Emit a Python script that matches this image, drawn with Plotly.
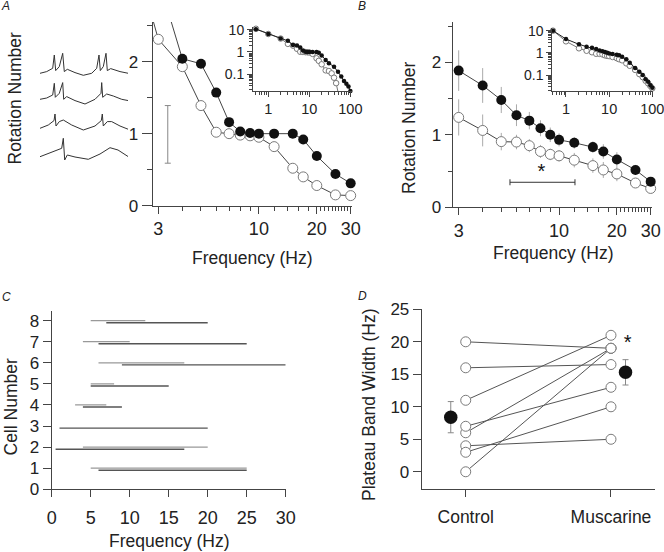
import plotly.graph_objects as go

W, H = 664, 552
FONT = "Liberation Sans, Arial, sans-serif"

# ---------------- Panel A (rotation number vs frequency) ----------------
a_filled_freq = [3, 4, 5, 6, 7, 8, 9, 10, 12, 15, 17, 20, 25, 30]
a_filled_rot = [3.15, 2.04, 1.97, 1.57, 1.16, 1.03, 1.01, 1.0, 1.0, 1.0, 0.92, 0.69, 0.44, 0.31]
a_open_freq = [2, 3, 4, 5, 6, 7, 8, 9, 10, 12, 15, 17, 20, 25, 30]
a_open_rot = [4.0, 2.31, 1.93, 1.39, 1.02, 1.0, 0.98, 0.97, 0.95, 0.82, 0.52, 0.40, 0.28, 0.15, 0.14]

# inset A (log-log)
ai_filled_freq = [0.5, 1, 2, 3, 4, 5, 6, 7, 8, 9, 10, 12, 15, 17, 20, 25, 30, 40, 50, 60, 70, 80, 90, 100]
ai_filled_rot = [10.5, 6.4, 4.0, 3.15, 2.04, 1.97, 1.57, 1.16, 1.03, 1.01, 1.0, 1.0, 1.0, 0.92, 0.69, 0.44,
                 0.31, 0.22, 0.13, 0.08, 0.05, 0.038, 0.028, 0.018]
ai_open_freq = [0.5, 1, 2, 3, 4, 5, 6, 7, 8, 9, 10, 12, 15, 17, 20, 25, 30, 35, 40, 45, 50]
ai_open_rot = [11.0, 6.4, 4.0, 2.31, 1.93, 1.39, 1.02, 1.0, 0.98, 0.97, 0.95, 0.82, 0.52, 0.40, 0.28, 0.15,
               0.14, 0.11, 0.07, 0.04, 0.016]

# scale bar for the voltage traces
scalebar_freq = [3.36]
scalebar_mid = [0.99]
scalebar_half = [0.40]

# example voltage traces (time, voltage) - illustrative
wave1_t = [0, 6.7, 12.7, 14.3, 15.7, 19.3, 22.7, 24.3, 27.3, 35, 43.3, 51.7, 56.7, 59, 60.3, 63.3, 66, 67.3, 70.7, 80, 88.3]
wave1_v = [0, 1.7, 5, 18.3, 2.7, 6.7, 20, 1.7, 4, 0.7, -2, 0, 5, 18.3, 2.7, 6.7, 20, 2.7, 4.7, 1.7, 0]
wave2_t = [0, 6.7, 12.7, 14.3, 15.3, 19.3, 22.7, 23.7, 26.7, 35, 45, 55, 61, 61.7, 62.7, 66.7, 73.3, 81.7, 88.3]
wave2_v = [0, 1.3, 4.3, 16, 2, 6, 16.7, 0, 2.7, -1.3, -4.7, 0, 6, 16.7, 2, 5.3, 3.3, 0, -1.3]
wave3_t = [0, 8.3, 14, 15, 16, 19.3, 23.3, 31.7, 43.3, 55, 61.3, 62.3, 63.3, 67.3, 71.7, 80, 88.3]
wave3_v = [0, 3.3, 7.7, 14.3, 2.3, 6.7, 8.3, 3.3, -1.7, 2.3, 7.7, 14.3, 2.3, 6.7, 6.7, 2.3, -1]
wave4_t = [0, 21.7, 23.3, 24.7, 27.3, 35, 48.3, 60, 70, 78, 88.3]
wave4_v = [-1.7, 6.7, 16.7, -5, 0, -2, -4.3, 1, 7.3, 5, -1.7]
wave_offsets = [-33.3, -59.3, -88.3, -115]

# ---------------- Panel B ----------------
b_freq = [3, 4, 5, 6, 7, 8, 9, 10, 12, 15, 17, 20, 25, 30]
b_filled_rot = [1.885, 1.68, 1.48, 1.27, 1.195, 1.09, 1.0, 0.93, 0.89, 0.83, 0.77, 0.66, 0.515, 0.354]
b_filled_err = [0.28, 0.24, 0.18, 0.15, 0.12, 0.11, 0.10, 0.09, 0.08, 0.08, 0.10, 0.10, 0.07, 0.05]
b_open_rot = [1.24, 1.06, 0.906, 0.90, 0.85, 0.77, 0.73, 0.71, 0.65, 0.575, 0.515, 0.46, 0.335, 0.26]
b_open_err = [0.25, 0.22, 0.12, 0.10, 0.09, 0.09, 0.08, 0.08, 0.10, 0.10, 0.11, 0.10, 0.06, 0.05]

bi_low_freq = [0.5, 1, 2]
bi_high_freq = [40, 50, 60, 70, 80, 90, 100]
bi_filled_low = [10.0, 4.2, 2.42]
bi_filled_high = [0.21, 0.14, 0.10, 0.065, 0.05, 0.035, 0.027]
bi_open_low = [10.0, 3.3, 1.6]
bi_open_high = [0.17, 0.11, 0.08, 0.055, 0.042, 0.032, 0.025]

sig_bar_center = [8.825]
sig_bar_half = [3.275]
sig_bar_level = [0.345]
sig_star_b = (8.1, 0.47)

# ---------------- Panel C (plateau bands per cell) ----------------
cells = [1, 2, 3, 4, 5, 6, 7, 8]
ctrl_lo = [5, 4, 15, 3, 5, 6, 4, 5]
ctrl_hi = [25, 20, 15, 7, 8, 17, 10, 12]
musc_lo = [6, 0.5, 1, 4, 5, 9, 6, 7]
musc_hi = [25, 17, 20, 9, 15, 30, 25, 20]

# ---------------- Panel D ----------------
ctrl_width = [h - l for l, h in zip(ctrl_lo, ctrl_hi)]
musc_width = [h - l for l, h in zip(musc_lo, musc_hi)]
groups = ["Control", "Muscarine"]
group_mean = [8.4, 15.3]
group_sem = [2.4, 1.95]
group_mean_x = [-0.103, 1.10]
sig_star_d = (1.115, 19.6)


def xd(l, r):
    return [l / W, r / W]


def yd(t, b):
    return [1 - b / H, 1 - t / H]


AX = dict(showline=True, linecolor="#444", linewidth=1, ticks="outside", tickcolor="#444",
          tickwidth=1, showgrid=False, zeroline=False, color="#222", automargin=False,
          ticklabeloverflow="allow")

LINE_DARK = "#444"
OPEN_EDGE = "#7a7a7a"

fig = go.Figure()

# ---- Panel A main
fig.add_trace(go.Scatter(x=a_open_freq, y=a_open_rot, mode="lines", line=dict(color=LINE_DARK, width=1),
                         xaxis="x", yaxis="y", hoverinfo="skip"))
fig.add_trace(go.Scatter(x=a_filled_freq, y=a_filled_rot, mode="lines", line=dict(color=LINE_DARK, width=1),
                         xaxis="x", yaxis="y", hoverinfo="skip"))
ao = [(f, v) for f, v in zip(a_open_freq, a_open_rot) if f >= 3 and v <= 2.5]
af = [(f, v) for f, v in zip(a_filled_freq, a_filled_rot) if f >= 3 and v <= 2.5]
fig.add_trace(go.Scatter(x=[p[0] for p in ao], y=[p[1] for p in ao], mode="markers", cliponaxis=False,
                         marker=dict(size=10, color="white", line=dict(color=OPEN_EDGE, width=1)),
                         xaxis="x", yaxis="y"))
fig.add_trace(go.Scatter(x=[p[0] for p in af], y=[p[1] for p in af], mode="markers", cliponaxis=False,
                         marker=dict(size=10, color="#111"), xaxis="x", yaxis="y"))
fig.add_trace(go.Scatter(x=scalebar_freq, y=scalebar_mid, mode="markers",
                         marker=dict(size=1, color="rgba(0,0,0,0)"),
                         error_y=dict(type="data", array=scalebar_half, color="#888", thickness=1, width=3),
                         xaxis="x", yaxis="y", hoverinfo="skip"))

# ---- Panel A inset
fig.add_trace(go.Scatter(x=ai_open_freq, y=ai_open_rot, mode="lines+markers", cliponaxis=False,
                         line=dict(color="#777", width=1),
                         marker=dict(size=5.5, color="white", line=dict(color=OPEN_EDGE, width=1)),
                         xaxis="x2", yaxis="y2"))
fig.add_trace(go.Scatter(x=ai_filled_freq, y=ai_filled_rot, mode="lines+markers", cliponaxis=False,
                         line=dict(color="#222", width=1), marker=dict(size=4.5, color="#111"),
                         xaxis="x2", yaxis="y2"))

# ---- example voltage traces
for t, v, off in zip([wave1_t, wave2_t, wave3_t, wave4_t], [wave1_v, wave2_v, wave3_v, wave4_v], wave_offsets):
    fig.add_trace(go.Scatter(x=t, y=[off + a for a in v], mode="lines", line=dict(color="#333", width=1),
                             xaxis="x7", yaxis="y7", hoverinfo="skip"))

# ---- Panel B main
fig.add_trace(go.Scatter(x=b_freq, y=b_open_rot, mode="lines+markers", cliponaxis=False,
                         line=dict(color=LINE_DARK, width=1),
                         marker=dict(size=10, color="white", line=dict(color=OPEN_EDGE, width=1)),
                         error_y=dict(type="data", array=b_open_err, color="#aaa", thickness=1, width=0),
                         xaxis="x3", yaxis="y3"))
fig.add_trace(go.Scatter(x=b_freq, y=b_filled_rot, mode="lines+markers", cliponaxis=False,
                         line=dict(color=LINE_DARK, width=1), marker=dict(size=10, color="#111"),
                         error_y=dict(type="data", array=b_filled_err, color="#aaa", thickness=1, width=0),
                         xaxis="x3", yaxis="y3"))
fig.add_trace(go.Scatter(x=sig_bar_center, y=sig_bar_level, mode="markers",
                         marker=dict(size=1, color="rgba(0,0,0,0)"),
                         error_x=dict(type="data", array=sig_bar_half, color="#333", thickness=1, width=3),
                         xaxis="x3", yaxis="y3", hoverinfo="skip"))
fig.add_trace(go.Scatter(x=[sig_star_b[0]], y=[sig_star_b[1]], mode="text", text=["*"],
                         textfont=dict(size=20, color="#111", family=FONT), xaxis="x3", yaxis="y3"))

# ---- Panel B inset
bi_freq = bi_low_freq + b_freq + bi_high_freq
fig.add_trace(go.Scatter(x=bi_freq, y=bi_open_low + b_open_rot + bi_open_high, mode="lines+markers",
                         cliponaxis=False, line=dict(color="#777", width=1),
                         marker=dict(size=5.5, color="white", line=dict(color=OPEN_EDGE, width=1)),
                         xaxis="x4", yaxis="y4"))
fig.add_trace(go.Scatter(x=bi_freq, y=bi_filled_low + b_filled_rot + bi_filled_high, mode="lines+markers",
                         cliponaxis=False, line=dict(color="#222", width=1), marker=dict(size=4.5, color="#111"),
                         xaxis="x4", yaxis="y4"))

# ---- Panel C
cx, cy, mx, my = [], [], [], []
for c, l, h, ml, mh in zip(cells, ctrl_lo, ctrl_hi, musc_lo, musc_hi):
    cx += [l, h, None]
    cy += [c, c, None]
    mx += [ml, mh, None]
    my += [c - 0.1, c - 0.1, None]
fig.add_trace(go.Scatter(x=cx, y=cy, mode="lines", line=dict(color="#999", width=1.3),
                         xaxis="x5", yaxis="y5", hoverinfo="skip"))
fig.add_trace(go.Scatter(x=mx, y=my, mode="lines", line=dict(color="#555", width=1.4),
                         xaxis="x5", yaxis="y5", hoverinfo="skip"))

# ---- Panel D
dx_, dy_ = [], []
for a, b in zip(ctrl_width, musc_width):
    dx_ += [0, 1, None]
    dy_ += [a, b, None]
fig.add_trace(go.Scatter(x=dx_, y=dy_, mode="lines", line=dict(color="#555", width=1),
                         xaxis="x6", yaxis="y6", hoverinfo="skip"))
fig.add_trace(go.Scatter(x=[0] * len(ctrl_width) + [1] * len(musc_width), y=ctrl_width + musc_width,
                         mode="markers", cliponaxis=False,
                         marker=dict(size=10, color="white", line=dict(color=OPEN_EDGE, width=1)),
                         xaxis="x6", yaxis="y6"))
fig.add_trace(go.Scatter(x=group_mean_x, y=group_mean, mode="markers", cliponaxis=False,
                         marker=dict(size=13.5, color="#111"),
                         error_y=dict(type="data", array=group_sem, color="#888", thickness=1, width=3),
                         xaxis="x6", yaxis="y6"))
fig.add_trace(go.Scatter(x=[sig_star_d[0]], y=[sig_star_d[1]], mode="text", text=["*"],
                         textfont=dict(size=20, color="#111", family=FONT), xaxis="x6", yaxis="y6"))

XT = dict(size=18, family=FONT, color="#222")
YT = dict(size=17, family=FONT, color="#222")
IX = dict(size=14.5, family=FONT, color="#222")
IY = dict(size=14, family=FONT, color="#222")

main_x_minor = [4, 5, 6, 7, 8, 9, 12, 14, 16, 18, 21, 22, 23, 24, 25, 26, 27, 28, 29]
inset_x_minor = [0.5, 0.6, 0.7, 0.8, 0.9, 2, 3, 4, 5, 6, 7, 8, 9, 20, 30, 40, 50, 60, 70, 80, 90]
inset_y_minor = [0.02, 0.03, 0.04, 0.05, 0.06, 0.07, 0.08, 0.09, 0.2, 0.3, 0.4, 0.5, 0.6, 0.7, 0.8, 0.9,
                 2, 3, 4, 5, 6, 7, 8, 9]

layout = dict(
    template="none",
    width=W, height=H, margin=dict(l=0, r=0, t=0, b=0, pad=0, autoexpand=False), showlegend=False,
    paper_bgcolor="white", plot_bgcolor="rgba(0,0,0,0)", font=dict(family=FONT, color="#222"),
    hovermode=False,
    xaxis=dict(AX, domain=xd(152.7, 352), type="log", range=[0.448, 1.484], anchor="y",
               tickvals=[3, 10, 20, 30], ticktext=["3", "10", "20", "30"], ticklen=7, tickfont=XT,
               minor=dict(tickvals=main_x_minor, ticks="outside", ticklen=4, tickcolor="#444")),
    yaxis=dict(AX, domain=yd(22, 205.7), range=[0, 2.55], anchor="x", tickvals=[0, 1, 2], ticklen=10,
               tickfont=YT, minor=dict(tickvals=[0.5, 1.5, 2.5], ticks="outside", ticklen=5, tickcolor="#444")),
    xaxis2=dict(AX, domain=xd(253, 352), type="log", range=[-0.373, 2.04], anchor="y2",
                tickvals=[1, 10, 100], ticktext=["1", "10", "100"], ticklen=5, tickfont=IX,
                minor=dict(tickvals=inset_x_minor, ticks="outside", ticklen=3, tickcolor="#444")),
    yaxis2=dict(AX, domain=yd(27, 91), type="log", range=[-1.75, 1.12], anchor="x2",
                tickvals=[0.1, 1, 10], ticktext=["0.1", "1", "10"], ticklen=5, tickfont=IY,
                minor=dict(tickvals=inset_y_minor, ticks="outside", ticklen=3, tickcolor="#444")),
    xaxis3=dict(AX, domain=xd(452.7, 652), type="log", range=[0.446, 1.484], anchor="y3",
                tickvals=[3, 10, 20, 30], ticktext=["3", "10", "20", "30"], ticklen=7, tickfont=XT,
                minor=dict(tickvals=main_x_minor, ticks="outside", ticklen=4, tickcolor="#444")),
    yaxis3=dict(AX, domain=yd(22.4, 207.3), range=[0, 2.55], anchor="x3", tickvals=[0, 1, 2], ticklen=7,
                tickfont=YT, minor=dict(tickvals=[0.5, 1.5, 2.5], ticks="outside", ticklen=4, tickcolor="#444")),
    xaxis4=dict(AX, domain=xd(552.3, 653), type="log", range=[-0.317, 2.016], anchor="y4",
                tickvals=[1, 10, 100], ticktext=["1", "10", "100"], ticklen=5, tickfont=IX,
                minor=dict(tickvals=inset_x_minor, ticks="outside", ticklen=3, tickcolor="#444")),
    yaxis4=dict(AX, domain=yd(28, 91), type="log", range=[-1.72, 1.12], anchor="x4",
                tickvals=[0.1, 1, 10], ticktext=["0.1", "1", "10"], ticklen=5, tickfont=IY,
                minor=dict(tickvals=inset_y_minor, ticks="outside", ticklen=3, tickcolor="#444")),
    xaxis5=dict(AX, domain=xd(51.7, 285.7), range=[0, 30], anchor="y5", tickvals=[0, 5, 10, 15, 20, 25, 30],
                ticklen=7, tickfont=XT, ticklabelstandoff=5),
    yaxis5=dict(AX, domain=yd(310.7, 489.3), range=[0, 8.47], anchor="x5", tickvals=[0] + cells,
                ticklen=8, tickfont=YT),
    xaxis6=dict(AX, domain=xd(421.7, 655), range=[-0.303, 1.303], anchor="y6", tickvals=[0, 1],
                ticktext=groups, ticklen=7, tickfont=dict(size=17.5, family=FONT, color="#222"),
                ticklabelstandoff=5),
    yaxis6=dict(AX, domain=yd(309.3, 489), range=[-2.65, 25], anchor="x6", tickvals=[0, 5, 10, 15, 20, 25],
                ticklen=8, tickfont=YT),
    xaxis7=dict(domain=xd(40, 128), range=[0, 88], anchor="y7", visible=False, automargin=False),
    yaxis7=dict(domain=yd(40, 170), range=[-130, 0], anchor="x7", visible=False, automargin=False),
)


def ann(text, x, y, size=17.5, angle=0, italic=False):
    t = f"<i>{text}</i>" if italic else text
    return dict(text=t, x=x / W, y=1 - y / H, xref="paper", yref="paper", showarrow=False,
                xanchor="center", yanchor="middle", textangle=angle,
                font=dict(size=size, family=FONT, color="#222"))


layout["annotations"] = [
    ann("A", 5, 6, size=12, italic=True),
    ann("B", 362, 6, size=12, italic=True),
    ann("C", 6, 297, size=12, italic=True),
    ann("D", 362, 296, size=12, italic=True),
    ann("Rotation Number", 15, 98.5, angle=-90),
    ann("Frequency (Hz)", 252, 258),
    ann("Rotation Number", 409, 128, angle=-90),
    ann("Frequency (Hz)", 553.7, 253.3),
    ann("Cell Number", 10, 407.5, angle=-90),
    ann("Frequency (Hz)", 169.7, 540.7),
    ann("Plateau Band Width (Hz)", 369, 405, angle=-90),
]

fig.update_layout(**layout)
fig.write_html("out.html", config={"displayModeBar": False},
               post_script="document.body.style.margin='0';document.body.style.padding='0';")
